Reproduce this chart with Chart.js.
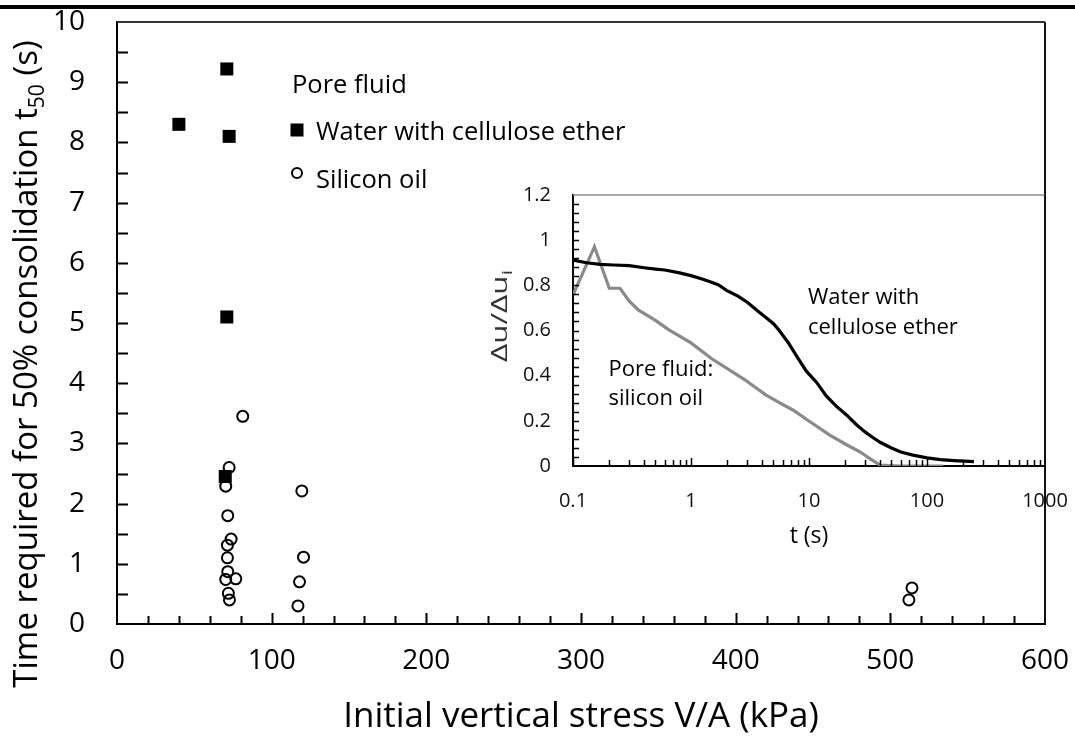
<!DOCTYPE html>
<html>
<head>
<meta charset="utf-8">
<script src="https://cdn.jsdelivr.net/npm/chart.js@4.4.1/dist/chart.umd.min.js"></script>
<style>
  body { margin: 0; background: #fff; }
  #wrap { position: relative; width: 1075px; height: 737px; overflow: hidden; }
  #rule { position: absolute; left: 0; top: 5px; width: 1075px; height: 4px; background: #000; }
  #mainChart { position: absolute; left: 0; top: 0; }
  #insetChart { position: absolute; left: 480px; top: 170px; }
</style>
</head>
<body>
<div id="wrap">
  <canvas id="mainChart" width="1075" height="737"></canvas>
  <canvas id="insetChart" width="595" height="400"></canvas>
  <div id="rule"></div>
</div>
<script>
// t50 against initial vertical stress, one array per series
const waterStress = [40, 71, 72.5, 71, 70];
const waterT50 = [8.3, 9.22, 8.1, 5.1, 2.45];

const oilStress = [81.3, 72.5, 70.3, 71.6, 73.8, 71.4, 71.4, 71.6, 70.3, 76.8, 72, 72.7, 119.5, 120.6, 118, 117, 512, 514];
const oilT50 = [3.45, 2.6, 2.29, 1.8, 1.41, 1.31, 1.1, 0.87, 0.74, 0.75, 0.51, 0.4, 2.21, 1.11, 0.7, 0.3, 0.4, 0.6];

// pore pressure dissipation curves (inset)
const waterTime = [0.1, 0.13, 0.17, 0.22, 0.3, 0.4, 0.5, 0.6, 0.8, 1.0, 1.3, 1.7, 2.0, 2.5, 3.0, 3.7, 4.5, 5.0, 5.5, 6.7, 8.0, 9.5, 11.6, 14, 17, 20.9, 25, 30, 35, 40, 50, 60, 76, 100, 130, 170, 250];
const waterRatio = [0.912, 0.9, 0.893, 0.89, 0.887, 0.878, 0.872, 0.868, 0.855, 0.843, 0.825, 0.803, 0.778, 0.752, 0.725, 0.685, 0.65, 0.63, 0.605, 0.545, 0.48, 0.42, 0.37, 0.31, 0.265, 0.225, 0.185, 0.15, 0.125, 0.105, 0.08, 0.062, 0.048, 0.036, 0.028, 0.024, 0.019];

const oilTime = [0.1, 0.152, 0.203, 0.25, 0.3, 0.36, 0.5, 0.64, 1.0, 1.5, 2.8, 4.3, 5.7, 7.3, 10.2, 15, 21, 27, 34, 40, 60, 90, 137];
const oilRatio = [0.757, 0.971, 0.787, 0.787, 0.73, 0.69, 0.645, 0.605, 0.545, 0.475, 0.385, 0.315, 0.278, 0.248, 0.196, 0.137, 0.093, 0.063, 0.027, 0.004, 0.0, 0.0, 0.0];

const xTitle = 'Initial vertical stress V/A (kPa)';
const yTitle = [{ text: 'Time required for 50% consolidation t' }, { text: '50', sub: true }, { text: ' (s)' }];
const legendTitle = 'Pore fluid';
const insetXTitle = 't (s)';
const insetYTitle = [{ text: '\u0394u/\u0394u' }, { text: 'i', sub: true }];
const insetNotes = [
  { lines: ['Water with', 'cellulose ether'], t: 9.8, r: 0.717 },
  { lines: ['Pore fluid:', 'silicon oil'], t: 0.2, r: 0.399 }
];

const FONT = "'Open Sans', sans-serif";
const pts = (xs, ys) => xs.map((x, i) => ({ x: x, y: ys[i] }));

// text with optional subscript pieces, drawn from the current origin
function richWidth(ctx, parts, size) {
  let w = 0;
  parts.forEach(p => {
    ctx.font = (p.sub ? Math.round(size * 0.65) : size) + 'px ' + FONT;
    w += ctx.measureText(p.text).width;
  });
  return w;
}
function drawRich(ctx, parts, x, y, size) {
  let cx = x;
  parts.forEach(p => {
    ctx.font = (p.sub ? Math.round(size * 0.65) : size) + 'px ' + FONT;
    ctx.fillText(p.text, cx, p.sub ? y + size * 0.22 : y);
    cx += ctx.measureText(p.text).width;
  });
}

// keep the plot area where the layout padding puts it
function noOverflow(s) {
  s.paddingTop = 0;
  s.paddingBottom = 0;
  s.paddingLeft = 0;
  s.paddingRight = 0;
}

// inward tick marks + plot frame
const tickMarks = {
  id: 'tickMarks',
  afterDraw(chart, args, o) {
    const { ctx, chartArea: a, scales: { x, y } } = chart;
    ctx.save();
    ctx.lineCap = 'butt';
    ctx.strokeStyle = o.topColor;
    ctx.lineWidth = o.topWidth;
    ctx.beginPath();
    ctx.moveTo(a.left, a.top);
    ctx.lineTo(a.right, a.top);
    ctx.stroke();
    if (o.rightWidth) {
      ctx.strokeStyle = '#111';
      ctx.lineWidth = o.rightWidth;
      ctx.beginPath();
      ctx.moveTo(a.right, a.top);
      ctx.lineTo(a.right, a.bottom);
      ctx.stroke();
    }
    ctx.strokeStyle = '#000';
    ctx.lineWidth = o.tickWidth;
    ctx.beginPath();
    o.yMarks.forEach(v => {
      const py = Math.round(y.getPixelForValue(v)) + 0.5;
      ctx.moveTo(a.left, py);
      ctx.lineTo(a.left + o.yLen, py);
    });
    o.xMarks.forEach(m => {
      const px = Math.round(x.getPixelForValue(m.v)) + 0.5;
      ctx.moveTo(px, a.bottom);
      ctx.lineTo(px, a.bottom - (m.major ? o.xMajorLen : o.xLen));
    });
    ctx.stroke();
    ctx.restore();
  }
};

// axis titles and in-plot legend
const mainText = {
  id: 'mainText',
  afterDraw(chart) {
    const { ctx, chartArea: a } = chart;
    ctx.save();
    ctx.fillStyle = '#000';
    ctx.textBaseline = 'alphabetic';

    ctx.textAlign = 'center';
    ctx.font = '35px ' + FONT;
    ctx.fillText(xTitle, (a.left + a.right) / 2, 727);

    ctx.textAlign = 'left';
    ctx.save();
    ctx.translate(37, 364);
    ctx.rotate(-Math.PI / 2);
    const w = richWidth(ctx, yTitle, 33);
    drawRich(ctx, yTitle, -w / 2, 0, 33);
    ctx.restore();

    // legend
    const ds = chart.data.datasets;
    ctx.font = '25.5px ' + FONT;
    ctx.fillText(legendTitle, 292, 93);
    ctx.fillStyle = '#000';
    Chart.helpers.drawPoint(ctx, { pointStyle: 'rect', radius: 9.2, borderWidth: 0 }, 297, 130);
    ctx.fillText(ds[0].label, 316, 140);
    ctx.strokeStyle = '#000';
    ctx.lineWidth = 2;
    ctx.fillStyle = 'rgba(0,0,0,0)';
    Chart.helpers.drawPoint(ctx, { pointStyle: 'circle', radius: 5, borderWidth: 2 }, 297, 173);
    ctx.fillStyle = '#000';
    ctx.fillText(ds[1].label, 316, 188);
    ctx.restore();
  }
};

const insetText = {
  id: 'insetText',
  afterDraw(chart) {
    const { ctx, chartArea: a, scales: { x, y } } = chart;
    ctx.save();
    ctx.fillStyle = '#000';
    ctx.textBaseline = 'alphabetic';
    ctx.textAlign = 'center';
    ctx.font = '23px ' + FONT;
    ctx.fillText(insetXTitle, (a.left + a.right) / 2, 373);

    ctx.textAlign = 'left';
    ctx.font = '22px ' + FONT;
    insetNotes.forEach(n => {
      const px = x.getPixelForValue(n.t);
      const py = y.getPixelForValue(n.r);
      n.lines.forEach((line, i) => ctx.fillText(line, px, py + i * 29.5));
    });

    ctx.fillStyle = '#333';
    ctx.save();
    ctx.translate(27, 146);
    ctx.rotate(-Math.PI / 2);
    ctx.scale(1.5, 1);
    const w = richWidth(ctx, insetYTitle, 21);
    drawRich(ctx, insetYTitle, -w / 2, 0, 21);
    ctx.restore();
    ctx.restore();
  }
};

const mainYMarks = [];
for (let v = 0.5; v < 10; v += 0.5) mainYMarks.push(v);
const mainXMarks = [];
for (let v = 20; v < 600; v += 20) mainXMarks.push({ v: v, major: v % 100 === 0 });

new Chart(document.getElementById('mainChart'), {
  type: 'scatter',
  data: {
    datasets: [
      {
        label: 'Water with cellulose ether',
        data: pts(waterStress, waterT50),
        pointStyle: 'rect',
        pointRadius: 9.2,
        backgroundColor: '#000',
        borderColor: '#000',
        borderWidth: 0
      },
      {
        label: 'Silicon oil',
        data: pts(oilStress, oilT50),
        pointStyle: 'circle',
        pointRadius: 5.5,
        backgroundColor: 'rgba(0,0,0,0)',
        borderColor: '#000',
        borderWidth: 2
      }
    ]
  },
  options: {
    responsive: false,
    animation: false,
    layout: { padding: { top: 22, right: 30, left: 0, bottom: 0 } },
    plugins: {
      legend: { display: false },
      tooltip: { enabled: false },
      tickMarks: {
        topColor: '#333', topWidth: 2, rightWidth: 2, tickWidth: 2,
        yMarks: mainYMarks, yLen: 11, xMarks: mainXMarks, xLen: 8, xMajorLen: 11
      }
    },
    scales: {
      x: {
        type: 'linear', min: 0, max: 600,
        grid: { display: false, drawTicks: false },
        border: { color: '#000', width: 2 },
        ticks: { stepSize: 100, color: '#000', font: { family: FONT, size: 28 }, padding: 20, maxRotation: 0 },
        afterFit(s) { s.height = 113; noOverflow(s); }
      },
      y: {
        type: 'linear', min: 0, max: 10,
        grid: { display: false, drawTicks: false },
        border: { color: '#000', width: 2 },
        ticks: { stepSize: 1, color: '#000', font: { family: FONT, size: 28 }, padding: 32 },
        afterFit(s) { s.width = 117; noOverflow(s); }
      }
    }
  },
  plugins: [tickMarks, mainText]
});

const insetYMarks = [];
for (let i = 1; i < 30; i++) insetYMarks.push(i * 0.04);
const insetXMarks = [];
[0.1, 1, 10, 100].forEach(d => {
  for (let m = 1; m <= 9; m++) insetXMarks.push({ v: d * m, major: m === 1 });
});

new Chart(document.getElementById('insetChart'), {
  type: 'line',
  data: {
    datasets: [
      {
        label: 'Water with cellulose ether',
        data: pts(waterTime, waterRatio),
        borderColor: '#000',
        borderWidth: 3.2,
        pointRadius: 0,
        tension: 0
      },
      {
        label: 'Silicon oil',
        data: pts(oilTime, oilRatio),
        borderColor: '#8a8a8a',
        borderWidth: 3.2,
        pointRadius: 0,
        tension: 0
      }
    ]
  },
  options: {
    responsive: false,
    animation: false,
    layout: { padding: { top: 25, right: 30, left: 0, bottom: 0 } },
    plugins: {
      legend: { display: false },
      tooltip: { enabled: false },
      tickMarks: {
        topColor: '#8c8c8c', topWidth: 1.5, rightWidth: 2, tickWidth: 1.5,
        yMarks: insetYMarks, yLen: 6, xMarks: insetXMarks, xLen: 6, xMajorLen: 8
      }
    },
    scales: {
      x: {
        type: 'logarithmic', min: 0.1, max: 1000,
        grid: { display: false, drawTicks: false },
        border: { color: '#000', width: 2 },
        ticks: {
          color: '#111', font: { family: FONT, size: 20 }, padding: 23, autoSkip: false, maxRotation: 0,
          callback(v) {
            const l = Math.log10(v);
            return Math.abs(l - Math.round(l)) < 1e-6 ? String(Number(Number(v).toPrecision(6))) : '';
          }
        },
        afterFit(s) { s.height = 104; noOverflow(s); }
      },
      y: {
        type: 'linear', min: 0, max: 1.2,
        grid: { display: false, drawTicks: false },
        border: { color: '#000', width: 2 },
        ticks: {
          stepSize: 0.2, color: '#111', font: { family: FONT, size: 20 }, padding: 22,
          callback(v) { return String(Number(v.toFixed(2))); }
        },
        afterFit(s) { s.width = 93; noOverflow(s); }
      }
    }
  },
  plugins: [tickMarks, insetText]
});
</script>
</body>
</html>
